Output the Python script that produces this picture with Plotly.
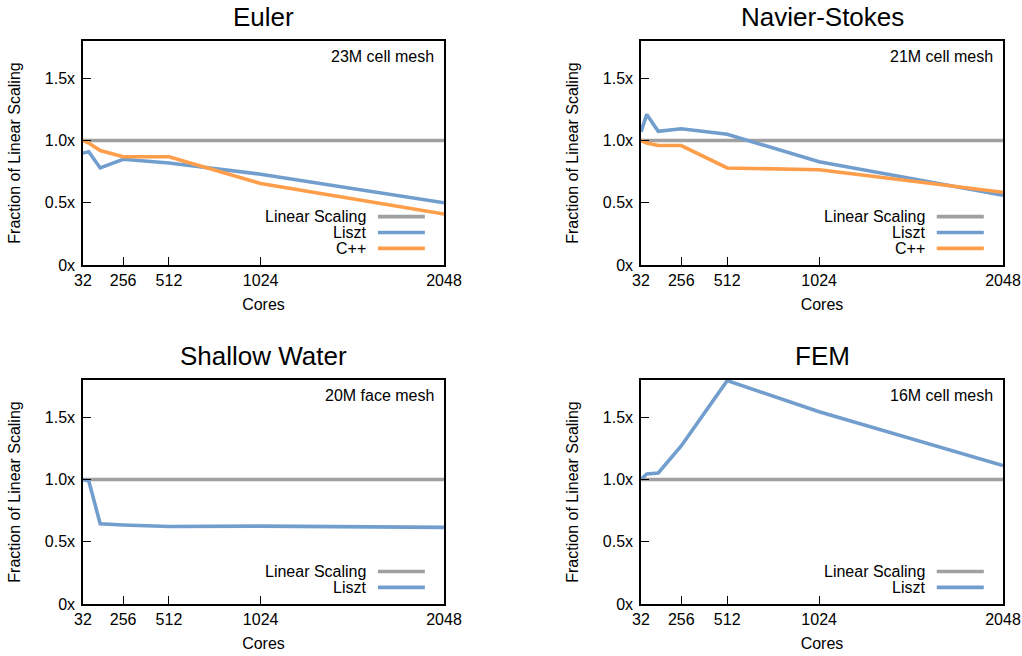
import plotly.graph_objects as go

# ---- data ----
cores = [32, 64, 128, 256, 512, 1024, 2048]
linear = [1.0, 1.0, 1.0, 1.0, 1.0, 1.0, 1.0]

euler_liszt = [0.90, 0.91, 0.78, 0.85, 0.82, 0.73, 0.50]
euler_cpp = [1.00, 0.98, 0.92, 0.87, 0.87, 0.655, 0.41]

ns_liszt = [1.07, 1.21, 1.075, 1.095, 1.05, 0.83, 0.56]
ns_cpp = [1.00, 0.98, 0.96, 0.96, 0.78, 0.765, 0.585]

sw_liszt = [1.00, 0.99, 0.645, 0.635, 0.623, 0.626, 0.616]

fem_liszt = [1.00, 1.045, 1.053, 1.27, 1.795, 1.545, 1.112]

panel_titles = ["Euler", "Navier-Stokes", "Shallow Water", "FEM"]
mesh_labels = ["23M cell mesh", "21M cell mesh", "20M face mesh", "16M cell mesh"]
x_ticks = [32, 256, 512, 1024, 2048]
y_ticks = [0, 0.5, 1.0, 1.5]
y_tick_text = ["0x", "0.5x", "1.0x", "1.5x"]

GRAY = "#a0a0a0"
BLUE = "#729ece"
ORANGE = "#ff9e4a"
FONT = "Liberation Sans, Arial, sans-serif"
FS = 16

panels = [
    [("Linear Scaling", linear, GRAY), ("Liszt", euler_liszt, BLUE), ("C++", euler_cpp, ORANGE)],
    [("Linear Scaling", linear, GRAY), ("Liszt", ns_liszt, BLUE), ("C++", ns_cpp, ORANGE)],
    [("Linear Scaling", linear, GRAY), ("Liszt", sw_liszt, BLUE)],
    [("Linear Scaling", linear, GRAY), ("Liszt", fem_liszt, BLUE)],
]

W, H = 1022, 656


def px(v):
    return v / W


def py(v):
    return 1 - v / H


xdoms = [[px(83), px(444)], [px(641), px(1003)]]
ydoms = [[py(265), py(41)], [py(604), py(380)]]

fig = go.Figure()
annotations = []
shapes = []

for i, series in enumerate(panels):
    r, c = divmod(i, 2)
    sfx = "" if i == 0 else str(i + 1)
    xa, ya = "x" + sfx, "y" + sfx
    for name, vals, col in series:
        fig.add_trace(go.Scatter(x=cores, y=vals, mode="lines", name=name,
                                 line=dict(color=col, width=3.6),
                                 xaxis=xa, yaxis=ya, showlegend=False))
    fig.layout["xaxis" + sfx] = dict(
        domain=xdoms[c], anchor=ya, range=[32, 2048], tickvals=x_ticks,
        ticks="inside", ticklen=8, tickwidth=1.2, tickcolor="black",
        showline=True, linecolor="black", linewidth=1.5, mirror=True,
        showgrid=False, zeroline=False, automargin=False, ticklabeloverflow="allow",
        tickfont=dict(family=FONT, size=FS, color="black"),
        title=dict(text="Cores", font=dict(family=FONT, size=FS, color="black"), standoff=11),
    )
    fig.layout["yaxis" + sfx] = dict(
        domain=ydoms[r], anchor=xa, range=[0, 1.8], tickvals=y_ticks, ticktext=y_tick_text,
        ticks="inside", ticklen=8, tickwidth=1.2, tickcolor="black",
        showline=True, linecolor="black", linewidth=1.5, mirror=True,
        showgrid=False, zeroline=False, automargin=False, ticklabelstandoff=3,
        tickfont=dict(family=FONT, size=FS, color="black"),
        title=dict(text="Fraction of Linear Scaling", font=dict(family=FONT, size=FS, color="black"), standoff=20),
    )
    # panel title
    annotations.append(dict(text=panel_titles[i], xref="paper", yref="paper",
                            x=sum(xdoms[c]) / 2, y=ydoms[r][1] + 24 / H,
                            xanchor="center", yanchor="middle", showarrow=False,
                            font=dict(family=FONT, size=26, color="black")))
    # mesh label
    annotations.append(dict(text=mesh_labels[i], xref=xa + " domain", yref=ya + " domain",
                            x=0.978, y=0.93, xanchor="right", yanchor="middle", showarrow=False,
                            font=dict(family=FONT, size=FS, color="black")))
    # legend (gnuplot style: text right-aligned, sample on right, stacked from bottom)
    n = len(series)
    row_y = [0.216, 0.145, 0.074][3 - n:]
    for (name, vals, col), yy in zip(series, row_y):
        annotations.append(dict(text=name, xref=xa + " domain", yref=ya + " domain",
                                x=0.79, y=yy, xanchor="right", yanchor="middle", showarrow=False,
                                font=dict(family=FONT, size=FS, color="black")))
        shapes.append(dict(type="line", xref=xa + " domain", yref=ya + " domain",
                           x0=0.817, x1=0.947, y0=yy, y1=yy,
                           line=dict(color=col, width=3.6)))

fig.update_layout(
    width=W, height=H, margin=dict(l=0, r=0, t=0, b=0),
    paper_bgcolor="white", plot_bgcolor="white",
    annotations=annotations, shapes=shapes, showlegend=False,
    font=dict(family=FONT, size=FS, color="black"),
)

# remove the browser's default 8px body margin so the figure fills the window exactly
fig.write_html("out.html",
               config={"displayModeBar": False},
               post_script="document.body.style.margin='0';document.body.style.overflow='hidden';")
